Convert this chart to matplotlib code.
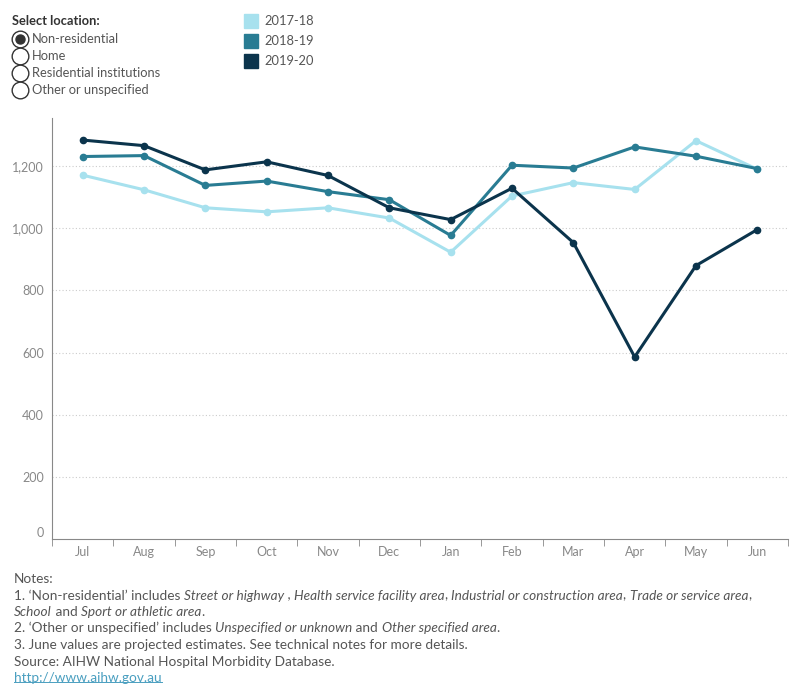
import numpy as np
import matplotlib
matplotlib.use("Agg")
from matplotlib import pyplot as plt
from matplotlib.lines import Line2D
from matplotlib.patches import Rectangle
from matplotlib.ticker import FuncFormatter, FixedLocator

MONTHS = ["Jul", "Aug", "Sep", "Oct", "Nov", "Dec", "Jan", "Feb", "Mar", "Apr", "May", "Jun"]
YEARS = ["2017-18", "2018-19", "2019-20"]
V_2017_18 = [1171, 1124, 1066, 1053, 1066, 1033, 923, 1104, 1147, 1125, 1282, 1190]
V_2018_19 = [1231, 1234, 1138, 1152, 1118, 1092, 977, 1203, 1194, 1262, 1232, 1192]
V_2019_20 = [1284, 1266, 1188, 1214, 1170, 1066, 1028, 1129, 954, 586, 880, 996]
LOCATIONS = ["Non-residential", "Home", "Residential institutions", "Other or unspecified"]

NOTES = [
    [("Notes:", False)],
    [("1. \u2018Non-residential\u2019 includes ", False), ("Street or highway", True), (" , ", False),
     ("Health service facility area", True), (", ", False),
     ("Industrial or construction area", True), (", ", False),
     ("Trade or service area", True), (",", False)],
    [("School", True), (" and ", False), ("Sport or athletic area", True), (".", False)],
    [("2. \u2018Other or unspecified\u2019 includes ", False), ("Unspecified or unknown", True),
     (" and ", False), ("Other specified area", True), (".", False)],
    [("3. June values are projected estimates. See technical notes for more details.", False)],
    [("Source: AIHW National Hospital Morbidity Database.", False)],
]
LINK = "http://www.aihw.gov.au"

COLORS = ["#a7e1ee", "#297c93", "#0b344c"]
GREY = "#888888"
TXT = "#555555"
FONT = "Lato"
NOTE_SIZE = 9.8

W, H = 800, 700
fx = lambda px: px / W
fy = lambda py: 1 - py / H


def text_line(fig, x, y, parts, size=NOTE_SIZE):
    # pieces of one line, each placed right after the previous one
    prev = None
    for s, it in parts:
        style = "italic" if it else "normal"
        if prev is None:
            prev = fig.text(fx(x), fy(y), s, fontsize=size, style=style, color=TXT,
                            va="bottom", family=FONT)
        else:
            prev = fig.axes[0].annotate(s, xy=(1, 0), xycoords=prev, va="bottom", ha="left",
                                        fontsize=size, style=style, color=TXT, family=FONT,
                                        annotation_clip=False)


def main():
    fig = plt.figure(figsize=(8, 7), dpi=100)
    ax = fig.add_axes([fx(52), fy(539), fx(788) - fx(52), fy(118) - fy(539)])

    x = np.arange(len(MONTHS))
    for vals, c, lab in zip([V_2017_18, V_2018_19, V_2019_20], COLORS, YEARS):
        ax.plot(x, vals, color=c, lw=2.2, marker="o", ms=4.5, label=lab, zorder=3)

    ax.set_xlim(-0.5, len(MONTHS) - 0.5)
    ax.set_ylim(0, 1355)
    ax.set_yticks(range(0, 1201, 200))
    ax.yaxis.set_major_formatter(FuncFormatter(lambda v, p: f"{int(v):,}"))
    for v in range(200, 1201, 200):
        ax.axhline(v, color="#cccccc", lw=0.8, ls=(0, (1, 2)), zorder=1)

    ax.set_xticks(x)
    ax.set_xticklabels(MONTHS)
    ax.xaxis.set_minor_locator(FixedLocator(np.arange(-0.5, len(MONTHS), 1)))
    ax.tick_params(axis="x", which="major", length=0, pad=5, labelsize=9, labelcolor=GREY)
    ax.tick_params(axis="x", which="minor", length=5, color=GREY)
    ax.tick_params(axis="y", length=0, pad=6, labelsize=9, labelcolor=GREY)
    for lbl in ax.get_xticklabels() + ax.get_yticklabels():
        lbl.set_family(FONT)
    ax.get_yticklabels()[0].set_verticalalignment("bottom")
    for s in ["top", "right"]:
        ax.spines[s].set_visible(False)
    for s in ["left", "bottom"]:
        ax.spines[s].set_color(GREY)

    # location selector
    fig.text(fx(12), fy(25), "Select location:", fontsize=9.3, color="#333333",
             family=FONT, fontweight="bold")
    for i, loc in enumerate(LOCATIONS):
        py = 39 + i * 17
        fig.add_artist(Line2D([fx(20)], [fy(py)], marker="o", ms=12, mfc="white",
                              mec="#333333", mew=1.0, transform=fig.transFigure))
        if i == 0:
            fig.add_artist(Line2D([fx(20)], [fy(py)], marker="o", ms=6.5, mfc="#333333",
                                  mec="#333333", transform=fig.transFigure))
        fig.text(fx(32), fy(py), loc, fontsize=9.3, color=TXT, family=FONT, va="center")

    # colour legend
    for i, (yr, c) in enumerate(zip(YEARS, COLORS)):
        py = 21 + i * 20
        fig.add_artist(Rectangle((fx(244), fy(py + 7)), fx(14), fy(0) - fy(14),
                                 color=c, transform=fig.transFigure))
        fig.text(fx(264), fy(py), yr, fontsize=9.3, color=TXT, family=FONT, va="center")

    # notes
    for i, parts in enumerate(NOTES):
        text_line(fig, 14, 585 + i * 16.5, parts)
    link = fig.text(fx(14), fy(585 + 6 * 16.5), LINK, fontsize=NOTE_SIZE,
                    color="#4a9fc0", family=FONT, va="bottom")
    fig.canvas.draw()
    bb = link.get_window_extent()
    fig.add_artist(Line2D([bb.x0 / W, bb.x1 / W], [(bb.y0 + 2) / H] * 2, color="#4a9fc0",
                          lw=0.7, transform=fig.transFigure))

    fig.savefig("out.png", dpi=100)
    plt.close(fig)


if __name__ == "__main__":
    main()
